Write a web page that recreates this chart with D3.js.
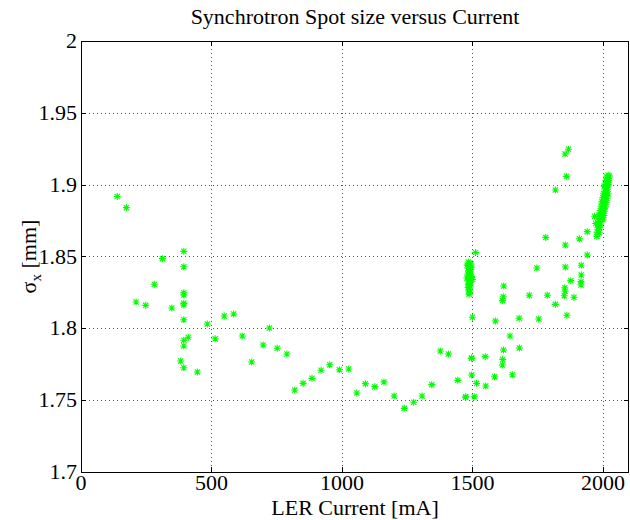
<!doctype html>
<html lang="en">
<head>
<meta charset="UTF-8" />
<script src="https://d3js.org/d3.v7.min.js"></script>
<title>Synchrotron Spot size versus Current</title>
<style>
  body { margin: 0; background: #fff; }
  text { font-family: "Liberation Serif", "DejaVu Serif", serif; fill: #000; }
</style>
</head>
<body>
<div id="chart"></div>
<script>
// axis ticks
const xTicks = [0, 500, 1000, 1500, 2000]
const yTicks = [1.7, 1.75, 1.8, 1.85, 1.9, 1.95, 2]

// [LER current mA, sigma_x mm]
const lowCurrent = [
  [139, 1.8918], [174, 1.8840], [211, 1.8183], [248, 1.8160], [281, 1.8307],
  [312, 1.8485], [348, 1.8142], [382, 1.7773], [394, 1.8536], [394, 1.8429],
  [394, 1.8248], [394, 1.8232], [394, 1.8174], [394, 1.8162], [394, 1.8060],
  [394, 1.7917], [394, 1.7877], [394, 1.7726], [411, 1.7938], [446, 1.7696],
  [484, 1.8030], [514, 1.7928], [549, 1.8086], [585, 1.8100], [618, 1.7947],
  [654, 1.7766], [698, 1.7884], [722, 1.8002], [752, 1.7861], [789, 1.7821]
]

const midCurrent = [
  [819, 1.7571], [851, 1.7617], [885, 1.7652], [920, 1.7708], [953, 1.7747],
  [990, 1.7712], [1026, 1.7717], [1057, 1.7550], [1090, 1.7615], [1126, 1.7594],
  [1161, 1.7627], [1200, 1.7529], [1239, 1.7443], [1275, 1.7485], [1307, 1.7529],
  [1344, 1.7608], [1377, 1.7842], [1408, 1.7821], [1444, 1.7638], [1474, 1.7520],
  [1474, 1.7524], [1497, 1.7791], [1497, 1.7793], [1497, 1.7675], [1500, 1.8077],
  [1507, 1.7524], [1512, 1.8527], [1516, 1.7617], [1549, 1.7803], [1551, 1.7599]
]

const highCurrent = [
  [1585, 1.7663], [1588, 1.8051], [1615, 1.8193], [1616, 1.7784], [1615, 1.7745],
  [1618, 1.8220], [1619, 1.7849], [1620, 1.8295], [1644, 1.7947], [1653, 1.7677],
  [1679, 1.8070], [1680, 1.7863], [1718, 1.8230], [1747, 1.8420], [1754, 1.8065],
  [1781, 1.8633], [1787, 1.8230], [1818, 1.8963], [1818, 1.8167], [1852, 1.8227],
  [1854, 1.8283], [1855, 1.8258], [1855, 1.9213], [1856, 1.8580], [1856, 1.8427],
  [1860, 1.9058], [1862, 1.8091], [1868, 1.9246], [1877, 1.8332], [1889, 1.8216],
  [1910, 1.8624], [1916, 1.8325], [1916, 1.8302], [1917, 1.8439], [1917, 1.8371],
  [1940, 1.8673], [1940, 1.8510]
]

// dense run near 1490 mA
const clusterA = [
  [1484, 1.8462], [1490, 1.8455], [1494, 1.8448], [1480, 1.8440], [1487, 1.8432],
  [1496, 1.8425], [1483, 1.8418], [1491, 1.8410], [1486, 1.8400], [1493, 1.8392],
  [1488, 1.8385], [1482, 1.8378], [1490, 1.8370], [1497, 1.8362], [1485, 1.8355],
  [1479, 1.8350], [1492, 1.8345], [1500, 1.8340], [1487, 1.8335], [1483, 1.8328],
  [1494, 1.8322], [1489, 1.8315], [1486, 1.8305], [1491, 1.8295], [1484, 1.8285],
  [1488, 1.8272], [1486, 1.8260], [1489, 1.8248], [1487, 1.8238]
]

// dense run near 2000 mA
const clusterB = [
  [2020, 1.9065], [2025, 1.9060], [2015, 1.9055], [2012, 1.9030], [2022, 1.9030],
  [2018, 1.9025], [2010, 1.9000], [2020, 1.9000], [2016, 1.8995], [2005, 1.8990],
  [2008, 1.8970], [2018, 1.8970], [2013, 1.8965], [2002, 1.8940], [2012, 1.8940],
  [2020, 1.8935], [2000, 1.8910], [2008, 1.8910], [2016, 1.8905], [1996, 1.8880],
  [2005, 1.8880], [2012, 1.8875], [1993, 1.8850], [2002, 1.8850], [2010, 1.8845],
  [1990, 1.8820], [2000, 1.8820], [2006, 1.8815], [1986, 1.8790], [1996, 1.8790],
  [2004, 1.8785], [1968, 1.8780], [1984, 1.8760], [1994, 1.8760], [2000, 1.8755],
  [1972, 1.8730], [1982, 1.8730], [1990, 1.8725], [1980, 1.8700], [1988, 1.8700],
  [1978, 1.8670], [1986, 1.8665], [1977, 1.8640]
]

const allPoints = [...lowCurrent, ...midCurrent, ...highCurrent, ...clusterA, ...clusterB]

const W = 630, H = 520
const margin = { top: 41, right: 1, bottom: 48, left: 81 }
const width = W - margin.left - margin.right
const height = H - margin.top - margin.bottom

const x = d3.scaleLinear().domain([0, 2100]).range([0, width])
const y = d3.scaleLinear().domain([1.7, 2]).range([height, 0])

const svg = d3.select("#chart").append("svg")
  .attr("width", W)
  .attr("height", H)

const g = svg.append("g")
  .attr("transform", `translate(${margin.left},${margin.top})`)

// dotted grid
g.selectAll(".vgrid")
  .data(xTicks.filter(d => d > 0))
  .enter().append("line")
  .attr("x1", d => Math.round(x(d)) + 0.5)
  .attr("x2", d => Math.round(x(d)) + 0.5)
  .attr("y1", 0).attr("y2", height)
  .attr("stroke", "#555")
  .attr("stroke-dasharray", "1,3")

g.selectAll(".hgrid")
  .data(yTicks.filter(d => d > 1.7 && d < 2))
  .enter().append("line")
  .attr("y1", d => Math.round(y(d)) + 0.5)
  .attr("y2", d => Math.round(y(d)) + 0.5)
  .attr("x1", 0).attr("x2", width)
  .attr("stroke", "#555")
  .attr("stroke-dasharray", "1,3")

// inward ticks on all four sides
const tl = 5
xTicks.forEach(d => {
  const px = Math.round(x(d)) + 0.5
  g.append("line").attr("x1", px).attr("x2", px).attr("y1", height).attr("y2", height - tl).attr("stroke", "#000")
  g.append("line").attr("x1", px).attr("x2", px).attr("y1", 0).attr("y2", tl).attr("stroke", "#000")
})
yTicks.forEach(d => {
  const py = Math.round(y(d)) + 0.5
  g.append("line").attr("y1", py).attr("y2", py).attr("x1", 0).attr("x2", tl).attr("stroke", "#000")
  g.append("line").attr("y1", py).attr("y2", py).attr("x1", width).attr("x2", width - tl).attr("stroke", "#000")
})

// box
g.append("rect")
  .attr("x", 0.5).attr("y", 0.5)
  .attr("width", width - 1).attr("height", height)
  .attr("fill", "none")
  .attr("stroke", "#000")

// tick labels
g.selectAll(".xlab")
  .data(xTicks)
  .enter().append("text")
  .attr("x", d => x(d))
  .attr("y", height + 18)
  .attr("text-anchor", "middle")
  .attr("font-size", 22)
  .text(d => d)

g.selectAll(".ylab")
  .data(yTicks)
  .enter().append("text")
  .attr("x", -4)
  .attr("y", d => y(d) + 7)
  .attr("text-anchor", "end")
  .attr("font-size", 22)
  .text(d => d3.format("")(d))

// asterisk markers
const r = 3.5, rd = 2.6
const star = `M${-r},0H${r}M0,${-r}V${r}M${-rd},${-rd}L${rd},${rd}M${-rd},${rd}L${rd},${-rd}`
g.selectAll(".pt")
  .data(allPoints)
  .enter().append("path")
  .attr("transform", d => `translate(${x(d[0])},${y(d[1])})`)
  .attr("d", star)
  .attr("fill", "none")
  .attr("stroke", "#00ff00")
  .attr("stroke-width", 1.1)

// title and axis labels
svg.append("text")
  .attr("x", margin.left + width / 2)
  .attr("y", 24)
  .attr("text-anchor", "middle")
  .attr("font-size", 22)
  .text("Synchrotron Spot size versus Current")

svg.append("text")
  .attr("x", margin.left + width / 2)
  .attr("y", 515)
  .attr("text-anchor", "middle")
  .attr("font-size", 22)
  .text("LER Current [mA]")

const yl = svg.append("text")
  .attr("transform", `translate(36,${margin.top + height / 2}) rotate(-90)`)
  .attr("text-anchor", "middle")
  .attr("font-size", 22)
yl.append("tspan").text("σ")
yl.append("tspan").attr("font-size", 15).attr("dy", 5).text("x")
yl.append("tspan").attr("dy", -5).text(" [mm]")
</script>
</body>
</html>
